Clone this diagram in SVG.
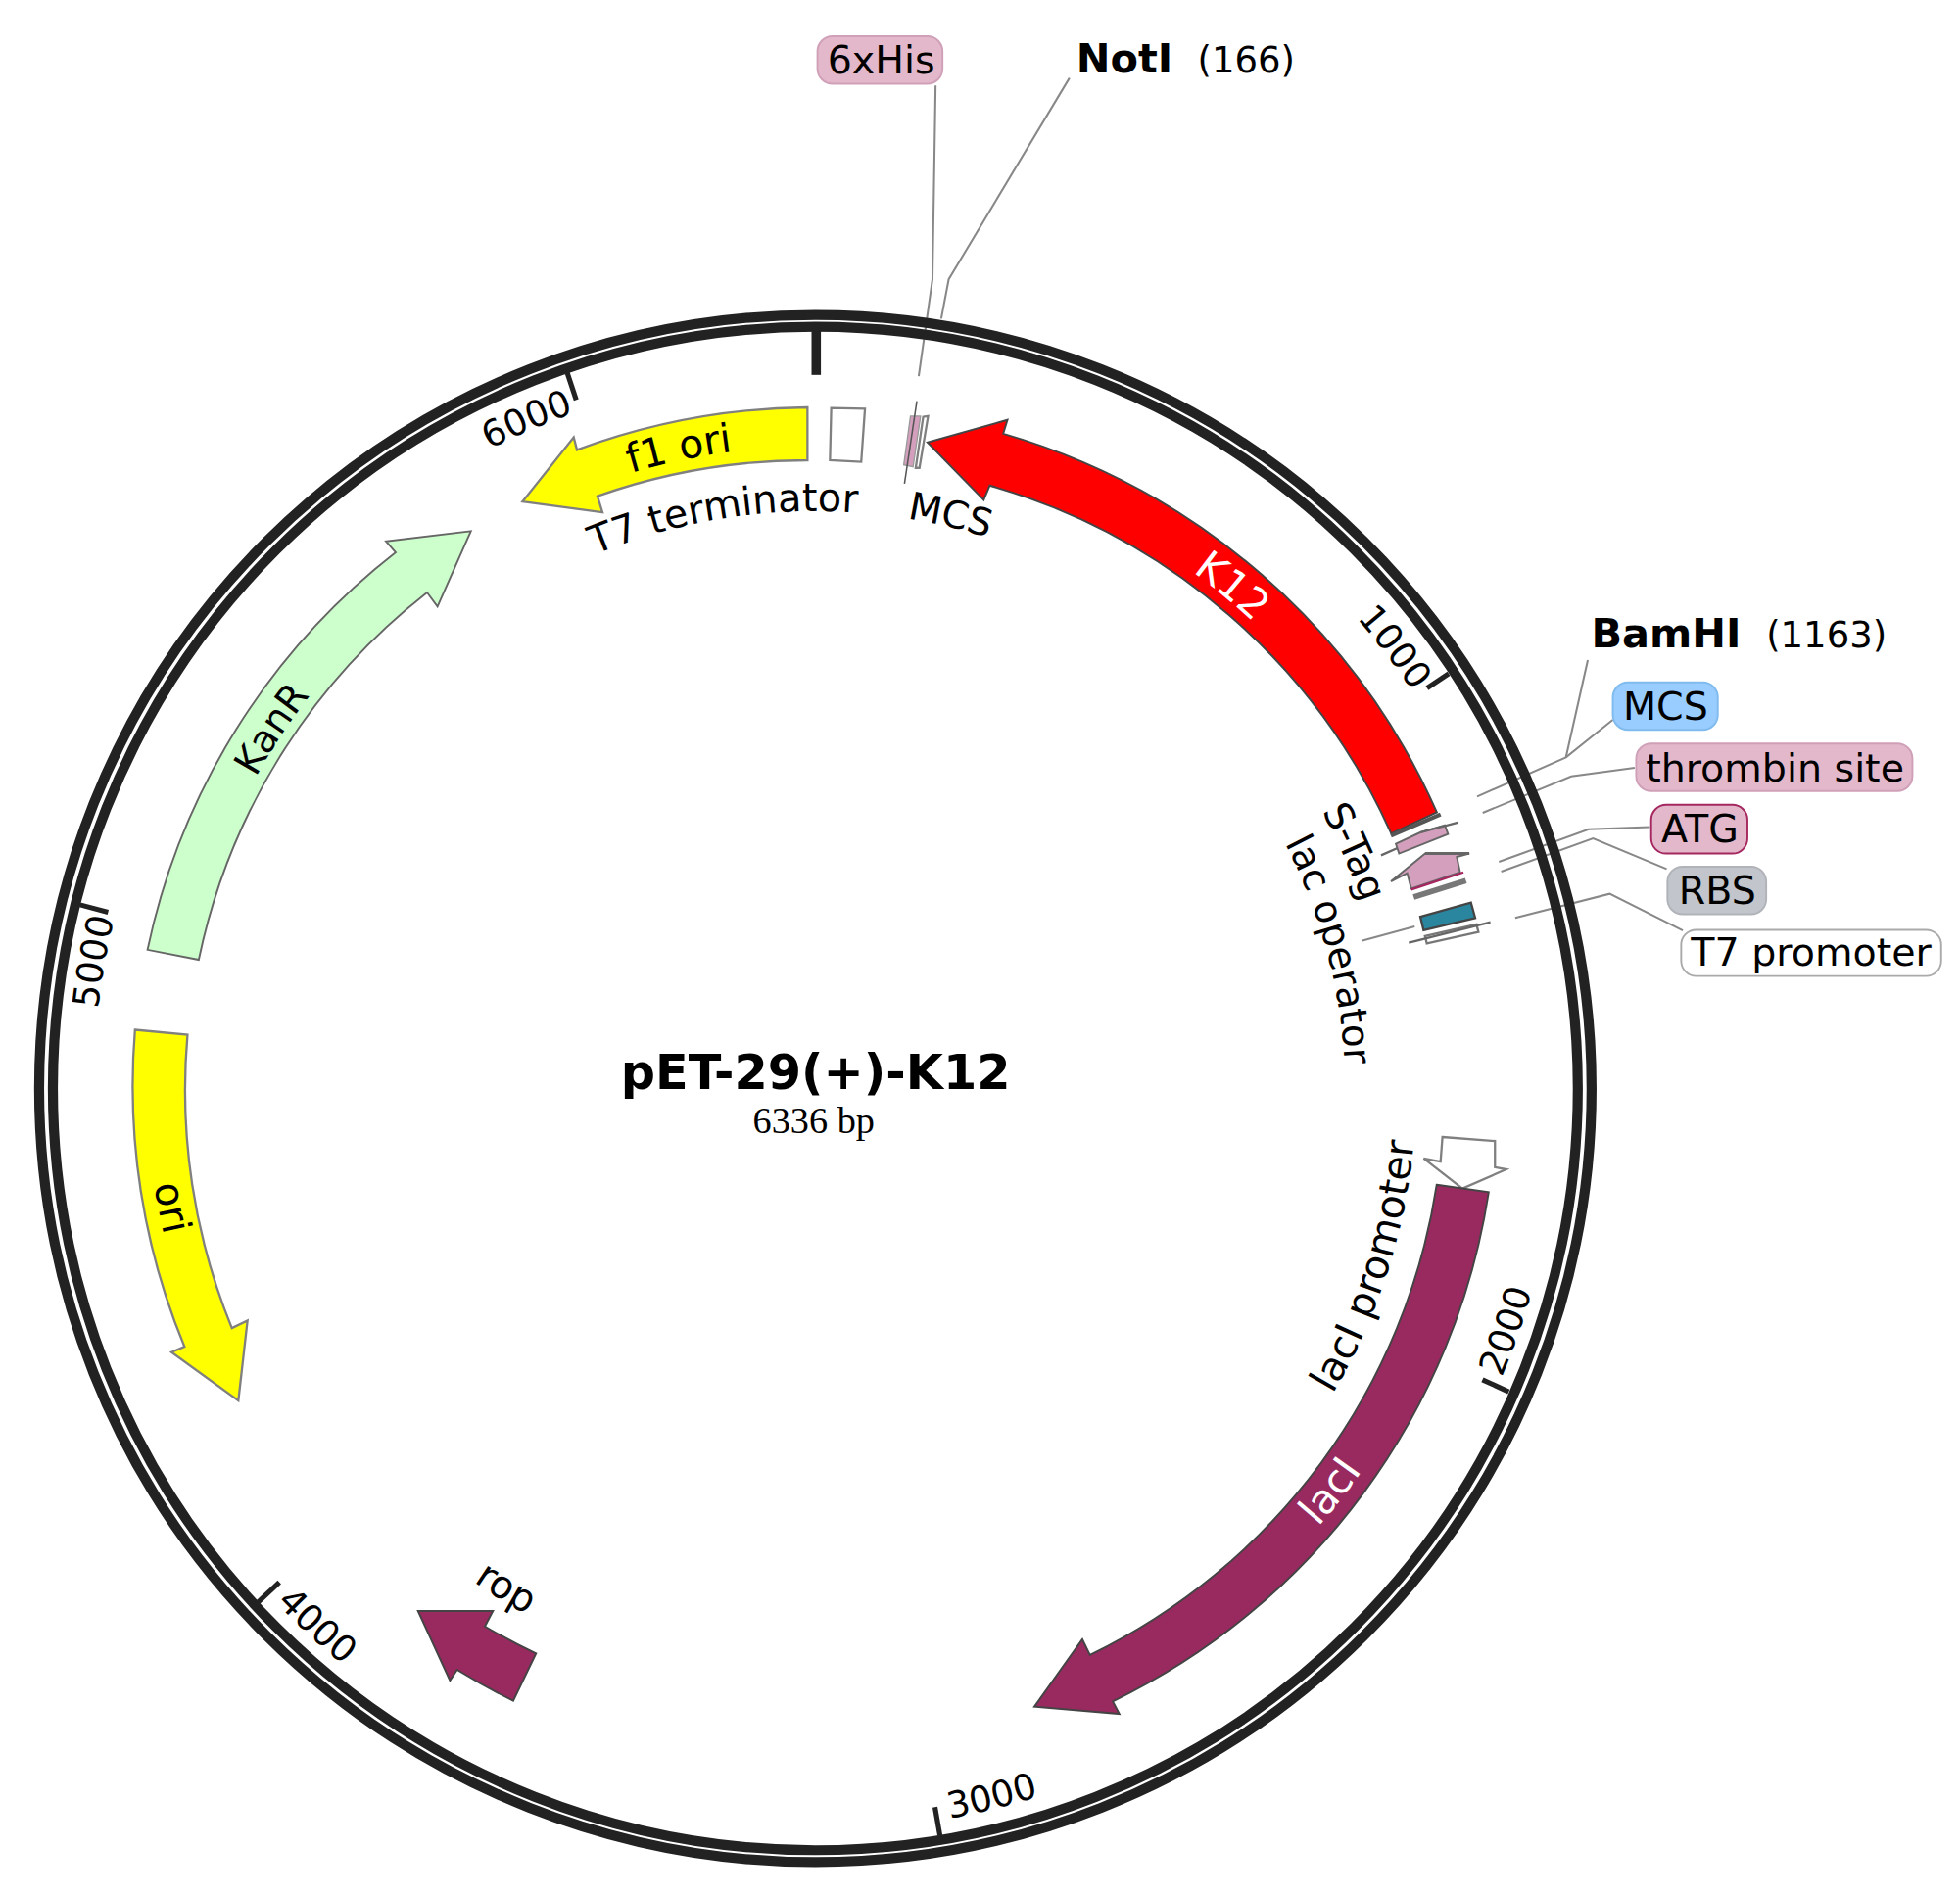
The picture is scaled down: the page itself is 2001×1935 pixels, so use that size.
<svg xmlns="http://www.w3.org/2000/svg" width="2001" height="1935" viewBox="0 0 2001 1935">
<style>
text{font-family:"DejaVu Sans",Verdana,sans-serif;font-size:30.5px;fill:#000}
textPath{text-anchor:middle}
.w{fill:#fff}
.lab{font-size:31px;text-anchor:middle}
.b{font-weight:bold;font-size:32.5px}
.pos{font-size:29px}
.ld{fill:none;stroke:#888;stroke-width:1.6}
.ring{fill:none;stroke:#222;stroke-width:8}
.tick{stroke:#222;stroke-width:4}
.f{stroke:#444;stroke-width:1.5}
.g{stroke:#808080;stroke-width:1.8}
.d{fill:none;stroke:#666;stroke-width:1.8}
.box{stroke-width:1.5}
</style>
<defs>
<path id="c462" d="M652 1333A462 462 0 1 1 652 409A462 462 0 1 1 652 1333"/>
<path id="c424" d="M652 1295A424 424 0 1 1 652 447A424 424 0 1 1 652 1295"/>
<path id="c514" d="M652 1385A514 514 0 1 1 652 357A514 514 0 1 1 652 1385"/>
<path id="c512" d="M652 1383A512 512 0 1 1 652 359A512 512 0 1 1 652 1383"/>
<path id="c574" d="M652 1445A574 574 0 1 1 652 297A574 574 0 1 1 652 1445"/>
<path id="c577" d="M652 1448A577 577 0 1 1 652 294A577 577 0 1 1 652 1448"/>
<path id="a481" d="M652 390A481 481 0 1 0 652 1352A481 481 0 1 0 652 390"/>
<path id="a480" d="M652 391A480 480 0 1 0 652 1351A480 480 0 1 0 652 391"/>
<path id="a534" d="M652 337A534 534 0 1 0 652 1405A534 534 0 1 0 652 337"/>
<path id="a596" d="M652 275A596 596 0 1 0 652 1467A596 596 0 1 0 652 275"/>
<path id="a594" d="M652 277A594 594 0 1 0 652 1465A594 594 0 1 0 652 277"/>
</defs>
<rect width="2001" height="1935" fill="#fff"/>
<g transform="scale(1.2761)">
<g id="connectors">
<path class="ld" d="M748.5 68.4L746 223.5L735 301"/>
<path class="ld" d="M855.6 62.4L759 223.5L753 255"/>
<path class="ld" d="M1270.3 528.2L1252.8 606"/>
<path class="ld" d="M1290.3 576L1252.8 606L1181.7 637.4"/>
<path class="ld" d="M1307.8 614.4L1257 621.2L1186.2 650.4"/>
<path class="ld" d="M1320 661.7L1271 663.5L1199.2 689.6"/>
<path class="ld" d="M1333.4 695.4L1274.5 670.8L1201 697.4"/>
<path class="ld" d="M1346.3 744.5L1287.8 715.2L1212.2 734.5"/>
<path class="ld" d="M1089.3 752.9L1131.8 741.3"/>
</g>
<g id="plasmid-ring">
<ellipse class="ring" cx="652.3" cy="871" rx="621" ry="619"/>
<ellipse class="ring" cx="652.3" cy="871" rx="610" ry="609.5"/>
<line class="tick" x1="653" y1="262" x2="653" y2="300" style="stroke-width:7.5"/>
<line class="tick" x1="1159" y1="539" x2="1141.7" y2="550.6"/>
<line class="tick" x1="1207" y1="1113.6" x2="1186" y2="1104"/>
<line class="tick" x1="752" y1="1468.7" x2="748" y2="1446"/>
<line class="tick" x1="206.6" y1="1282" x2="223.5" y2="1266"/>
<line class="tick" x1="64" y1="724" x2="86.5" y2="730"/>
<line class="tick" x1="453.8" y1="298.3" x2="461" y2="320"/>
<text class="pos" transform="rotate(52.7 652 871)"><textPath href="#c574" startOffset="50%">1000</textPath></text>
<text class="pos" transform="rotate(-70.7 652 871)"><textPath href="#a596" startOffset="50%">2000</textPath></text>
<text class="pos" transform="rotate(-14 652 871)"><textPath href="#a594" startOffset="50%">3000</textPath></text>
<text class="pos" transform="rotate(42.8 652 871)"><textPath href="#a596" startOffset="50%">4000</textPath></text>
<text class="pos" transform="rotate(-80 652 871)"><textPath href="#c577" startOffset="50%">5000</textPath></text>
<text class="pos" transform="rotate(-23.3 652 871)"><textPath href="#c574" startOffset="50%">6000</textPath></text>
</g>
<g id="title">
<text x="652.5" y="871.5" text-anchor="middle" style="font-weight:bold;font-size:38.6px">pET-29(+)-K12</text>
<text x="651" y="907" text-anchor="middle" style="font-family:'Liberation Serif',serif;font-size:30px">6336 bp</text>
</g>
<g id="f1-ori">
<path fill="#ff0" class="g" d="M646 326A546 546 0 0 0 461.6 360L459 350L418 401.4L482 410L478 397A504 504 0 0 1 646 368.3Z"/>
<text style="font-size:32px" transform="rotate(-12 652 871)"><textPath href="#c514" startOffset="50%">f1 ori</textPath></text>
</g>
<g id="t7-terminator">
<path fill="#fff" class="g" d="M665 326.5L692 327L689 369.6L664 368.3Z"/>
<text style="font-size:31.2px" transform="rotate(-9.1 652 871)"><textPath href="#c462" startOffset="50%">T7 terminator</textPath></text>
</g>
<g id="mcs-top">
<path fill="#fff" class="g" d="M738.6 333.6L742.5 333L735.6 374.4L732.6 374.4Z"/>
<path fill="#d49fbc" stroke="#999" d="M728.4 333L736.5 333L730.5 373.5L723 372Z"/>
<path fill="none" stroke="#555" stroke-width="1.2" d="M733.5 321L723.6 387"/>
<text transform="rotate(13.3 652 871)"><textPath href="#c462" startOffset="50%">MCS</textPath></text>
</g>
<g id="k12">
<path fill="#f00" class="f" d="M1149.5 650A545 545 0 0 0 802.6 347L806 336L742 354L787 400L791.8 388.5A503 503 0 0 1 1113 667Z"/>
<path fill="none" stroke="#555" stroke-width="3.2" d="M1152.5 651.7L1112.8 668.7"/>
<text class="w" style="font-size:33px" transform="rotate(39.7 652 871)"><textPath href="#c512" startOffset="50%">K12</textPath></text>
</g>
<g id="s-tag">
<path fill="#d49fbc" stroke="#666" stroke-width="1.5" d="M1116.7 675.2L1136.3 666.1L1155.9 660.3L1158.5 667.4L1119.3 683Z"/>
<path class="d" d="M1104.9 684.4L1118 678.6M1136.3 666.1L1166.3 658.2"/>
<text style="font-size:31px" transform="rotate(66.3 652 871)"><textPath href="#c462" startOffset="50%">S-Tag</textPath></text>
</g>
<g id="atg">
<path fill="#d49fbc" stroke="#666" stroke-width="1.5" d="M1112.8 705.3L1140.2 683L1175.5 683L1165.5 685.7L1168.1 698L1129 711L1125.8 698.7Z"/>
<path fill="none" stroke="#666" stroke-width="2.4" d="M1140.2 683L1175.5 683"/>
<path fill="none" stroke="#a5275f" stroke-width="1.8" d="M1129 711.8L1170.8 698"/>
<path fill="none" stroke="#777" stroke-width="4.6" d="M1131 717.8L1172.8 704.7"/>
</g>
<g id="t7-promoter">
<path fill="#fff" stroke="#777" stroke-width="1.8" d="M1140 749L1141.5 754.9L1182.8 745.7L1181.2 739.7Z"/>
<path class="d" d="M1192.4 737.9L1127.1 754.4"/>
<path fill="#2a869f" stroke="#444" stroke-width="1.8" d="M1136.3 733.5L1176.8 722.2L1180.2 734.5L1138.9 744.4Z"/>
<text transform="rotate(74.9 652 871)"><textPath href="#c424" startOffset="50%">lac operator</textPath></text>
</g>
<g id="laci-promoter">
<path fill="#fff" class="g" d="M1154 909.8L1196 913L1196 934L1205 935.7L1170 951L1139 927L1152.5 929.5Z"/>
<text style="font-size:32px" transform="rotate(-72.2 652 871)"><textPath href="#a481" startOffset="50%">lacI promoter</textPath></text>
</g>
<g id="laci">
<path fill="#982a60" class="f" d="M1149.4 948L1191 954A545 545 0 0 1 890.2 1361.4L895.5 1371.4L827.5 1365.6L865.9 1311.8L872 1324.3A503 503 0 0 0 1149.4 948Z"/>
<text class="w" style="font-size:33px" transform="rotate(-52 652 871)"><textPath href="#a534" startOffset="50%">lacI</textPath></text>
</g>
<g id="rop">
<path fill="#982a60" class="f" d="M428.9 1323A504 504 0 0 1 387.9 1301.4L394.4 1289.1L334.4 1289.1L360 1344.7L365.7 1336.1A546 546 0 0 0 410.6 1360.9Z"/>
<text style="font-size:31px" transform="rotate(31.7 652 871)"><textPath href="#a480" startOffset="50%">rop</textPath></text>
</g>
<g id="ori">
<path fill="#ff0" class="g" d="M108 824L150 828A503 503 0 0 0 185.5 1062.7L198 1056.7L190.7 1120.7L137.2 1082L147.6 1077.6A545 545 0 0 1 108 824Z"/>
<text style="font-size:32px" transform="rotate(79.5 652 871)"><textPath href="#a534" startOffset="50%">ori</textPath></text>
</g>
<g id="kanr">
<path fill="#cfc" stroke="#666" stroke-width="1.5" d="M118 760A545 545 0 0 1 316.6 442L308.8 433.1L376.7 425L350 485.3L341.7 474.1A503 503 0 0 0 159 768Z"/>
<text transform="rotate(-56.5 652 871)"><textPath href="#c512" startOffset="50%">KanR</textPath></text>
</g>
<g id="label-6xhis">
<rect class="box" x="654" y="29" width="100" height="38" rx="12" fill="#e3b8cb" stroke="#cfa0b8"/>
<text class="lab" x="705" y="59">6xHis</text>
</g>
<g id="label-noti">
<text class="b" x="861" y="58">NotI</text>
<text class="pos" x="958" y="58">(166)</text>
</g>
<g id="label-bamhi">
<text class="b" x="1273" y="518">BamHI</text>
<text class="pos" x="1413" y="518">(1163)</text>
</g>
<g id="label-mcs">
<rect class="box" x="1290.3" y="546" width="84" height="38" rx="12" fill="#99ccff" stroke="#80bbee"/>
<text class="lab" x="1332.5" y="576">MCS</text>
</g>
<g id="label-thrombin">
<rect class="box" x="1309" y="595" width="221" height="38" rx="12" fill="#e3b8cb" stroke="#cfa0b8"/>
<text class="lab" x="1420" y="625">thrombin site</text>
</g>
<g id="label-atg">
<rect class="box" x="1321" y="644" width="77" height="39" rx="12" fill="#e3b8cb" stroke="#a5275f"/>
<text class="lab" x="1360" y="674">ATG</text>
</g>
<g id="label-rbs">
<rect class="box" x="1334" y="693.5" width="79" height="38" rx="12" fill="#c2c5cb" stroke="#b0b3b8"/>
<text class="lab" x="1374" y="723">RBS</text>
</g>
<g id="label-t7">
<rect class="box" x="1345" y="744" width="208" height="37" rx="12" fill="#fff" stroke="#aaa"/>
<text class="lab" x="1449" y="773">T7 promoter</text>
</g>
</g>
</svg>
